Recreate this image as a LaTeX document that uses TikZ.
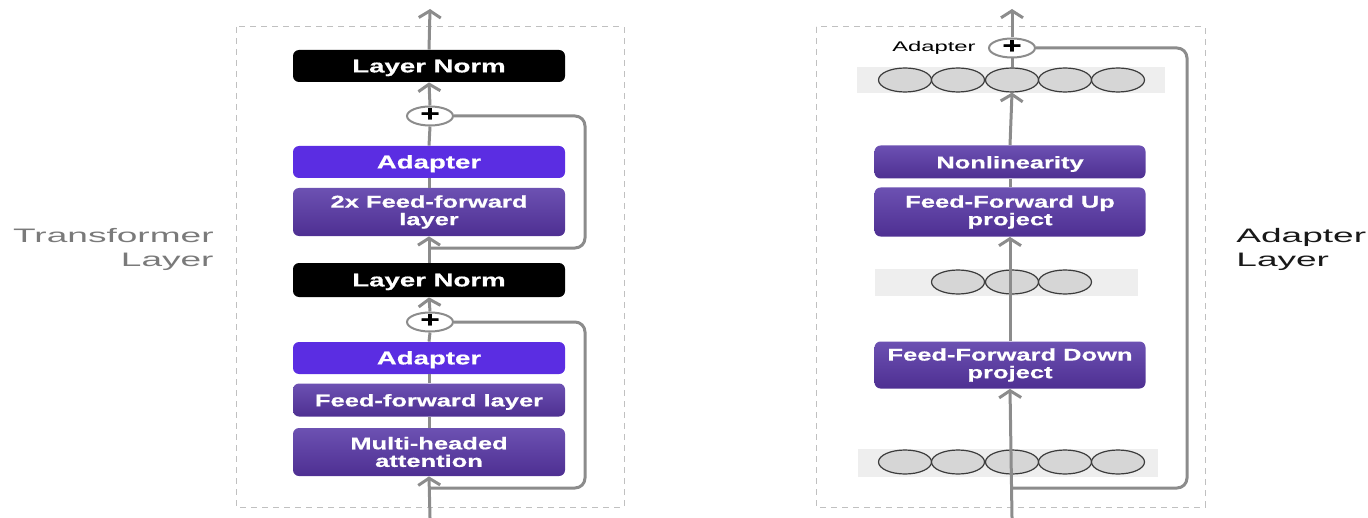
\documentclass[tikz,border=0pt]{standalone}
\usepackage{fontspec}
\setmainfont{Liberation Sans}
\newfontfamily\boxfont[FakeStretch=1.5, BoldFeatures={FakeBold=0.6}]{Liberation Sans}
\newfontfamily\sidefont[FakeStretch=1.9]{Liberation Sans}
\newfontfamily\tagfont[FakeStretch=1.7]{Liberation Sans}
\usetikzlibrary{arrows.meta,shapes.geometric}

\definecolor{lnk}{HTML}{8C8C8C}
\definecolor{adapt}{HTML}{5B2DE2}
\definecolor{fftop}{HTML}{6C51B2}
\definecolor{ffbot}{HTML}{4E2F92}
\definecolor{framegray}{HTML}{C0C0C0}
\definecolor{cell}{HTML}{D6D6D6}
\definecolor{cellline}{HTML}{3C3C3C}
\definecolor{bandgray}{HTML}{EEEEEE}
\definecolor{sidegray}{HTML}{7A7A7A}

\tikzset{
  blk/.style={rectangle, rounded corners=3pt, minimum width=136pt, inner sep=0pt,
    align=center, text=white, font=\boxfont\bfseries\fontsize{8.5}{8.8}\selectfont},
  oneline/.style={text height=6.4pt, text depth=0pt},
  normbox/.style={blk, oneline, fill=black, minimum height=16pt,
    font=\boxfont\bfseries\fontsize{9.2}{9.2}\selectfont},
  adaptbox/.style={blk, oneline, fill=adapt, minimum height=16pt,
    font=\boxfont\bfseries\fontsize{9.2}{9.2}\selectfont},
  ffbox/.style={blk, top color=fftop, bottom color=ffbot},
  plusnode/.style={ellipse, draw=lnk, line width=1pt, fill=white, minimum width=23pt,
    minimum height=9.5pt, inner sep=0pt, text height=5pt, text depth=0pt,
    font=\boxfont\bfseries\fontsize{11}{11}\selectfont},
  cellnode/.style={ellipse, draw=cellline, fill=cell, line width=0.6pt,
    minimum width=26.5pt, minimum height=12pt, inner sep=0pt},
  bandnode/.style={rectangle, fill=bandgray, inner sep=0pt},
  frame/.style={draw=framegray, line width=0.5pt, dash pattern=on 3pt off 2.5pt},
  link/.style={draw=lnk, line width=1.5pt},
  tip/.style={link, -{Straight Barb[length=3.5pt,width=11pt]}},
  skip/.style={link, rounded corners=5pt},
  sidelab/.style={font=\sidefont\fontsize{9.75}{12}\selectfont, inner sep=0pt},
}

\begin{document}
\begin{tikzpicture}[x=0.5pt,y=-0.5pt]
\useasboundingbox (0,0) rectangle (1368,518);

% ---------- Transformer layer ----------
\draw[frame] (236,27) rectangle (624,507);

\node[normbox] (ln1) at (429,66) {Layer Norm};
\node[plusnode] (p1) at (430,116) {+};
\node[adaptbox] (ad1) at (429,162) {Adapter};
\node[ffbox, minimum height=24pt] (ff2) at (429,212) {2x Feed-forward\\layer};
\node[normbox, minimum height=17pt] (ln2) at (429,280) {Layer Norm};
\node[plusnode] (p2) at (430,322) {+};
\node[adaptbox] (ad2) at (429,358) {Adapter};
\node[ffbox, oneline, minimum height=16.5pt] (ff1) at (429,400) {Feed-forward layer};
\node[ffbox, minimum height=24pt] (mha) at (429,452) {Multi-headed\\attention};

\coordinate (lbot) at (430,518);
\coordinate (ltop) at (430,9);
\coordinate (lk1) at (585,248);
\coordinate (lj1) at (430,248);
\coordinate (lk2) at (585,488);
\coordinate (lj2) at (430,488);

\draw[tip] (lbot) -- (mha.south);
\draw[link] (mha.north) -- (ff1.south);
\draw[link] (ff1.north) -- (ad2.south);
\draw[link] (ad2.north) -- (p2.south);
\draw[tip] (p2.north) -- (ln2.south);
\draw[tip] (ln2.north) -- (ff2.south);
\draw[link] (ff2.north) -- (ad1.south);
\draw[link] (ad1.north) -- (p1.south);
\draw[tip] (p1.north) -- (ln1.south);
\draw[tip] (ln1.north) -- (ltop);

\draw[skip] (p1.east) -| (lk1) -- (lj1);
\draw[skip] (p2.east) -| (lk2) -- (lj2);

\node[sidelab, text=sidegray, anchor=east, align=right] (tl) at (214,249) {Transformer\\Layer};

% ---------- Adapter layer ----------
\draw[frame] (816,27) rectangle (1205,507);

% feature vectors
\node[bandnode, minimum width=154pt, minimum height=13pt] (bt) at (1011,80) {};
\node[bandnode, minimum width=131.5pt, minimum height=13.5pt] (bm) at (1006,282) {};
\node[bandnode, minimum width=150pt, minimum height=14pt] (bb) at (1008,463) {};

\foreach \i/\x in {1/905,2/958,3/1012,4/1065,5/1118} {
  \node[cellnode] (t\i) at (\x,80) {};
  \node[cellnode] (b\i) at (\x,462) {};
}
\foreach \i/\x in {1/958,2/1012,3/1065} {
  \node[cellnode] (m\i) at (\x,282) {};
}

\node[plusnode] (p3) at (1012,48) {+};
\node[font=\tagfont\fontsize{7}{7}\selectfont, anchor=east, inner sep=0pt] (atag) at (976,48) {Adapter};
\node[ffbox, oneline, minimum width=135.5pt, minimum height=16.5pt] (nl) at (1010,162) {Nonlinearity};
\node[ffbox, minimum width=135.5pt, minimum height=24.5pt] (up) at (1010,212) {Feed-Forward Up\\project};
\node[ffbox, minimum width=135.5pt, minimum height=23.5pt] (dn) at (1010,365) {Feed-Forward Down\\project};

\coordinate (rbot) at (1012,518);
\coordinate (rtop) at (1012,9);
\coordinate (rk) at (1187,488);
\coordinate (rj) at (1012,488);

\draw[tip] (rbot) -- (dn.south);
\draw[tip] (dn.north) -- (up.south);
\draw[link] (up.north) -- (nl.south);
\draw[tip] (nl.north) -- (t3.south);
\draw[link] (t3.north) -- (p3.south);
\draw[tip] (p3.north) -- (rtop);
\draw[skip] (p3.east) -| (rk) -- (rj);

\node[sidelab, text=black!90, anchor=west, align=left] (al) at (1236,249) {Adapter\\Layer};
\end{tikzpicture}
\end{document}
